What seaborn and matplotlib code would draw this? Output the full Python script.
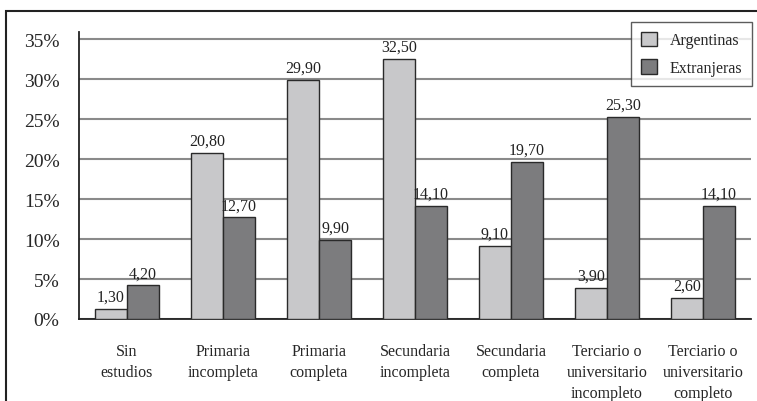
import matplotlib
matplotlib.use('Agg')
import matplotlib.pyplot as plt
import matplotlib.patches as mpatches
import seaborn as sns
import pandas as pd

# Datos
categorias = ['Sin\nestudios', 'Primaria\nincompleta', 'Primaria\ncompleta',
              'Secundaria\nincompleta', 'Secundaria\ncompleta',
              'Terciario o\nuniversitario\nincompleto', 'Terciario o\nuniversitario\ncompleto']
argentinas = [1.30, 20.80, 29.90, 32.50, 9.10, 3.90, 2.60]
extranjeras = [4.20, 12.70, 9.90, 14.10, 19.70, 25.30, 14.10]
series = ['Argentinas', 'Extranjeras']
colores = ['#c8c8ca', '#7c7c7e']

df = pd.DataFrame({
    'categoria': categorias * 2,
    'grupo': [series[0]] * len(categorias) + [series[1]] * len(categorias),
    'valor': argentinas + extranjeras,
})

sns.set_style('white')
plt.rcParams['font.family'] = ['Liberation Serif', 'DejaVu Serif']

fig = plt.figure(figsize=(7.57, 4.02), dpi=100)
ax = fig.add_axes([79 / 757, 1 - 320 / 402, (751 - 79) / 757, (320 - 33) / 402])

sns.barplot(data=df, x='categoria', y='valor', hue='grupo', order=categorias,
            hue_order=series, palette=colores, width=0.67, edgecolor='#2a2a2a',
            linewidth=1.0, ax=ax, legend=False, zorder=3)

for cont in ax.containers:
    ax.bar_label(cont, labels=[f'{v:.2f}'.replace('.', ',') for v in cont.datavalues],
                 padding=3, fontsize=11.5, color='#222222')

ax.set_ylim(0, 35.9)
ax.set_xlim(-0.5, 6.5)
ax.set_yticks(range(0, 40, 5))
ax.set_yticklabels([f'{v}%' for v in range(0, 40, 5)], fontsize=14)
ax.yaxis.grid(True, color='#8a8a8a', linewidth=1.5, zorder=0)
ax.set_axisbelow(True)
ax.tick_params(axis='y', length=0, pad=14)
ax.tick_params(axis='x', which='major', length=0, pad=17, labelsize=11.5)
for t in ax.get_xticklabels():
    t.set_linespacing(1.45)
ax.set_xticks([i - 0.5 for i in range(8)], minor=True)
ax.tick_params(axis='x', which='minor', length=7, width=1, color='#333333', direction='out')
ax.set_xlabel('')
ax.set_ylabel('')
for s in ['top', 'right']:
    ax.spines[s].set_visible(False)
for s in ['left', 'bottom']:
    ax.spines[s].set_color('#222222')
    ax.spines[s].set_linewidth(1.3)

# Leyenda
handles = [mpatches.Patch(facecolor=c, edgecolor='#2a2a2a', label=l) for c, l in zip(colores, series)]
leg = fig.legend(handles=handles, loc='upper right', bbox_to_anchor=(752 / 757, 1 - 23 / 402),
                 borderaxespad=0, fontsize=11.5, frameon=True, fancybox=False,
                 edgecolor='#333333', handlelength=1.0, handleheight=1.0,
                 borderpad=0.6, labelspacing=0.7)
leg.get_frame().set_linewidth(1.0)

# Marco exterior
fig.patches.append(mpatches.Rectangle((6 / 757, -0.05), 1.1, 1 - 12 / 402 + 0.05,
                                      transform=fig.transFigure, fill=False,
                                      edgecolor='#222222', linewidth=1.5))

fig.savefig('out.png', dpi=100)
